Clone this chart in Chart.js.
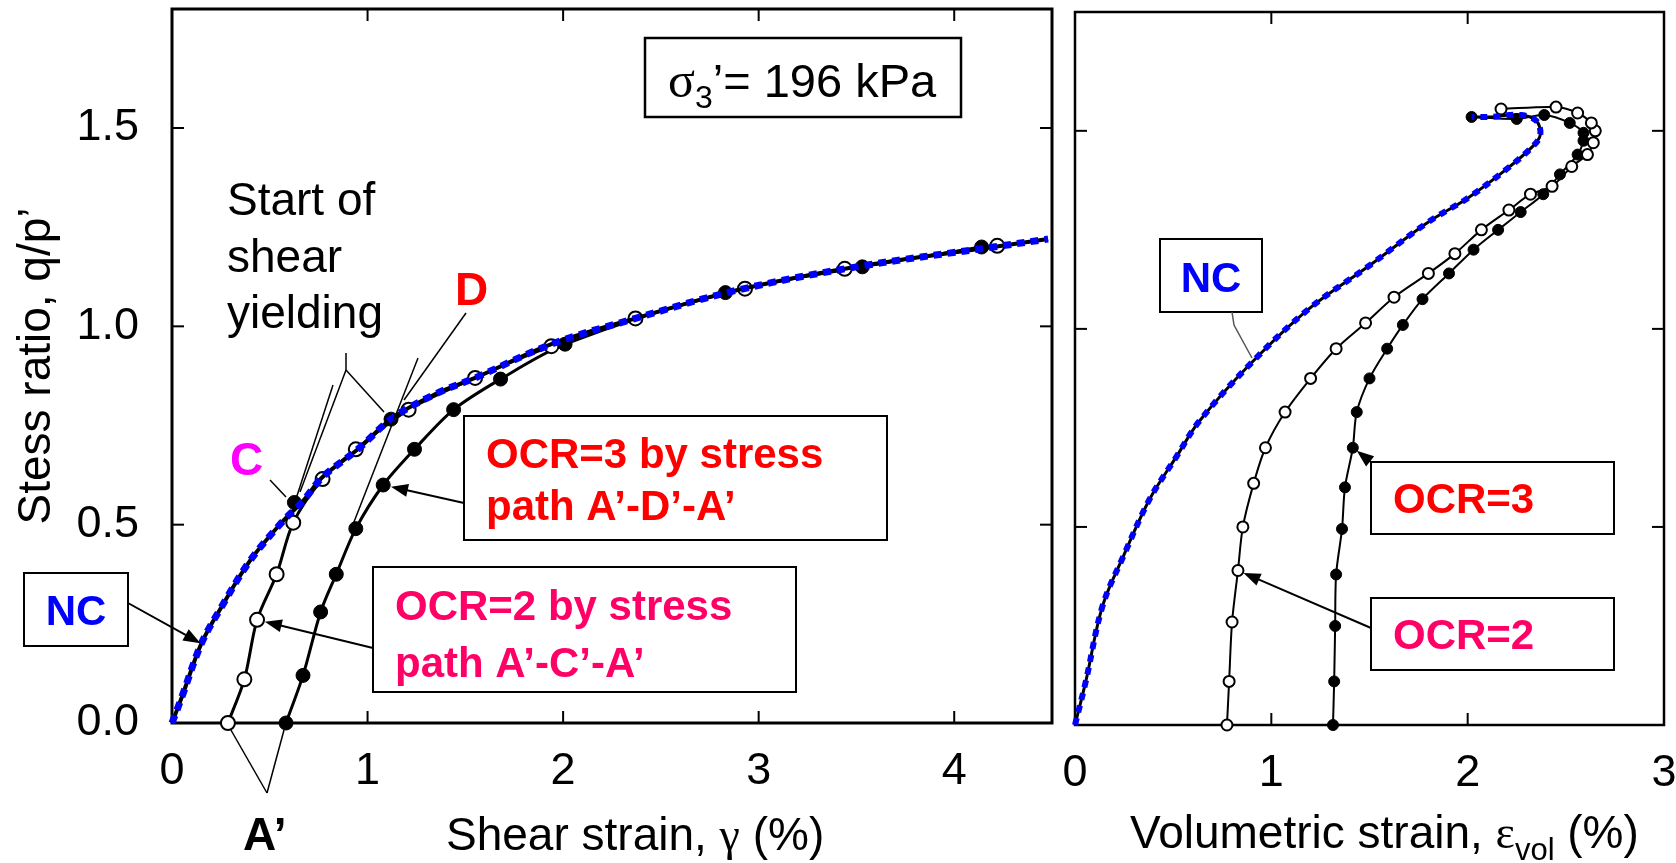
<!DOCTYPE html>
<html>
<head>
<meta charset="utf-8">
<script src="https://cdn.jsdelivr.net/npm/chart.js@4.4.1/dist/chart.umd.min.js"></script>
<style>
  html, body { margin: 0; padding: 0; background: #fff; overflow: hidden; }
  #shear { position: absolute; left: 0; top: 0; }
  #vol { position: absolute; left: 1062px; top: 0; }
</style>
</head>
<body>
<canvas id="shear" width="1062" height="863"></canvas>
<canvas id="vol" width="614" height="863"></canvas>
<script>
// ---- left panel: stress ratio vs shear strain ----
var ncGamma   = [0, 0.05, 0.15, 0.25, 0.40, 0.56, 0.67, 0.77, 0.95, 1.13, 1.35, 1.55, 1.94, 2.37, 2.88, 3.50, 4.20, 4.48];
var ncRatioL  = [0, 0.065, 0.20, 0.29, 0.41, 0.505, 0.56, 0.62, 0.69, 0.77, 0.83, 0.87, 0.955, 1.02, 1.09, 1.15, 1.20, 1.22];
var ocr2Gamma  = [0.286, 0.37, 0.435, 0.535, 0.62, 0.77, 0.94, 1.21, 1.55, 1.94, 2.37, 2.93, 3.44, 4.22];
var ocr2RatioL = [0, 0.11, 0.26, 0.375, 0.505, 0.615, 0.69, 0.79, 0.87, 0.95, 1.02, 1.095, 1.145, 1.203];
var ocr3Gamma  = [0.583, 0.67, 0.76, 0.84, 0.94, 1.08, 1.24, 1.44, 1.68, 2.01, 2.83, 3.53, 4.14];
var ocr3RatioL = [0, 0.12, 0.28, 0.375, 0.49, 0.60, 0.69, 0.79, 0.867, 0.955, 1.085, 1.15, 1.20];
var reversalGamma = [0.626, 1.12];   // points C and D
var reversalRatio = [0.556, 0.766];

// ---- right panel: stress ratio vs volumetric strain ----
var ncVol    = [0, 0.055, 0.14, 0.25, 0.38, 0.52, 0.63, 0.89, 1.19, 1.50, 1.80, 2.00, 2.19, 2.33, 2.37, 2.35, 2.27, 2.11, 2.02];
var ncRatioR = [0, 0.11, 0.30, 0.43, 0.57, 0.68, 0.765, 0.91, 1.05, 1.16, 1.27, 1.33, 1.40, 1.46, 1.49, 1.525, 1.54, 1.535, 1.535];
var ocr2Vol    = [0.774, 0.785, 0.80, 0.83, 0.855, 0.91, 0.97, 1.07, 1.20, 1.33, 1.48, 1.625, 1.80, 1.935, 2.07, 2.21, 2.32, 2.43, 2.53, 2.61, 2.64, 2.65, 2.63, 2.56, 2.45, 2.17];
var ocr2RatioR = [0, 0.11, 0.26, 0.39, 0.50, 0.61, 0.70, 0.79, 0.875, 0.95, 1.015, 1.08, 1.14, 1.19, 1.25, 1.30, 1.34, 1.36, 1.41, 1.44, 1.47, 1.50, 1.52, 1.545, 1.56, 1.555];
var ocr3Vol    = [1.314, 1.32, 1.325, 1.33, 1.36, 1.375, 1.415, 1.435, 1.50, 1.59, 1.67, 1.77, 1.905, 2.03, 2.155, 2.27, 2.385, 2.47, 2.56, 2.59, 2.59, 2.52, 2.39, 2.25, 2.02];
var ocr3RatioR = [0, 0.11, 0.25, 0.38, 0.495, 0.60, 0.70, 0.79, 0.875, 0.95, 1.01, 1.075, 1.14, 1.20, 1.25, 1.295, 1.34, 1.39, 1.44, 1.475, 1.495, 1.52, 1.54, 1.53, 1.535];

// tick labels
var gammaTicks = [0, 1, 2, 3, 4];
var volTicks   = [0, 1, 2, 3];
var ratioTicks = [0, 0.5, 1.0, 1.5];

var FONT  = '"Liberation Sans", Arial, sans-serif';
var SERIF = '"Liberation Serif", "Times New Roman", serif';

function pts(xs, ys) {
  return xs.map(function (v, i) { return { x: v, y: ys[i] }; });
}
function tickList(vals) {
  return function (scale) { scale.ticks = vals.map(function (v) { return { value: v }; }); };
}
// pin the axis box size and drop the label overhang padding so the plot frame lands where it should
function fixX(h) {
  return function (s) { s.height = h; s.paddingLeft = 0; s.paddingRight = 0; };
}
function fixY(w) {
  return function (s) { s.width = w; s.paddingTop = 0; s.paddingBottom = 0; };
}
function line(ctx, x1, y1, x2, y2) {
  ctx.beginPath(); ctx.moveTo(x1, y1); ctx.lineTo(x2, y2); ctx.stroke();
}
function arrow(ctx, x1, y1, x2, y2, gap) {
  var dx = x2 - x1, dy = y2 - y1, len = Math.hypot(dx, dy);
  var ux = dx / len, uy = dy / len;
  var tx = x2 - ux * gap, ty = y2 - uy * gap;
  var hl = 17, hw = 6.5;
  line(ctx, x1, y1, tx - ux * hl * 0.7, ty - uy * hl * 0.7);
  ctx.beginPath();
  ctx.moveTo(tx, ty);
  ctx.lineTo(tx - ux * hl - uy * hw, ty - uy * hl + ux * hw);
  ctx.lineTo(tx - ux * hl + uy * hw, ty - uy * hl - ux * hw);
  ctx.closePath();
  ctx.fill();
}
function runs(ctx, x, y, parts) {
  parts.forEach(function (p) {
    ctx.font = p.font;
    ctx.fillText(p.text, x, y + (p.dy || 0));
    x += ctx.measureText(p.text).width;
  });
}

// frame with inward ticks on all four sides
var framePlugin = {
  id: 'frame',
  beforeDatasetsDraw: function (chart, args, opts) {
    var ctx = chart.ctx, a = chart.chartArea, xs = chart.scales.x, ys = chart.scales.y;
    ctx.save();
    ctx.strokeStyle = '#000';
    ctx.lineWidth = opts.width;
    ctx.strokeRect(a.left, a.top, a.right - a.left, a.bottom - a.top);
    ctx.lineWidth = 2;
    xs.ticks.forEach(function (t) {
      var p = xs.getPixelForValue(t.value);
      if (p - a.left < 3 || a.right - p < 3) return;
      line(ctx, p, a.bottom, p, a.bottom - opts.tick);
      line(ctx, p, a.top, p, a.top + opts.tick);
    });
    ys.ticks.forEach(function (t) {
      var p = ys.getPixelForValue(t.value);
      if (a.bottom - p < 3 || p - a.top < 3) return;
      line(ctx, a.left, p, a.left + opts.tick, p);
      line(ctx, a.right, p, a.right - opts.tick, p);
    });
    ctx.restore();
  }
};

var shearNotes = {
  id: 'shearNotes',
  afterDraw: function (chart) {
    var ctx = chart.ctx, xs = chart.scales.x, ys = chart.scales.y;
    var px = function (v) { return xs.getPixelForValue(v); };
    var py = function (v) { return ys.getPixelForValue(v); };
    ctx.save();
    ctx.fillStyle = '#000';
    ctx.strokeStyle = '#000';
    ctx.textBaseline = 'alphabetic';

    // confining pressure box
    ctx.lineWidth = 2.5;
    ctx.strokeRect(645, 38, 316, 79);
    runs(ctx, 668, 97, [
      { text: 'σ', font: '50px ' + SERIF },
      { text: '3', font: '32px ' + FONT, dy: 11 },
      { text: '’= 196 kPa', font: '47px ' + FONT }
    ]);

    ctx.font = '46px ' + FONT;
    ctx.fillText('Start of', 227, 215);
    ctx.fillText('shear', 227, 272);
    ctx.fillText('yielding', 227, 328);

    ctx.font = 'bold 46px ' + FONT;
    ctx.fillStyle = '#ff0000'; ctx.fillText('D', 455, 305);
    ctx.fillStyle = '#ff00ff'; ctx.fillText('C', 230, 475);
    ctx.fillStyle = '#000';    ctx.fillText('A’', 243, 850);

    // label boxes
    ctx.lineWidth = 2;
    ctx.strokeRect(24, 573, 104, 73);
    ctx.strokeRect(464, 416, 423, 124);
    ctx.strokeRect(373, 567, 423, 125);
    ctx.font = 'bold 42px ' + FONT;
    ctx.fillStyle = '#0000ff';
    ctx.textAlign = 'center';
    ctx.fillText('NC', 76, 625);
    ctx.textAlign = 'left';
    ctx.fillStyle = '#ff0000';
    ctx.fillText('OCR=3 by stress', 486, 468);
    ctx.fillText('path A’-D’-A’', 486, 520);
    ctx.fillStyle = '#ff0066';
    ctx.fillText('OCR=2 by stress', 395, 620);
    ctx.fillText('path A’-C’-A’', 395, 677);

    // x axis title
    ctx.fillStyle = '#000';
    runs(ctx, 446, 850, [
      { text: 'Shear strain, ', font: '46px ' + FONT },
      { text: 'γ', font: '46px ' + SERIF },
      { text: ' (%)', font: '46px ' + FONT }
    ]);

    // thin leader lines
    ctx.lineWidth = 1.5;
    line(ctx, 466, 313, 404, 400);           // D
    line(ctx, 270, 480, 286, 497);           // C
    line(ctx, 346, 353, 346, 370);           // shear yielding pointer
    line(ctx, 346, 370, 300, 492);
    line(ctx, 346, 370, 384, 412);
    line(ctx, 418, 358, 352, 527);           // tangent near D
    line(ctx, 333, 385, 294, 505);           // tangent near C
    var a2 = [px(ocr2Gamma[0]), py(0)], a3 = [px(ocr3Gamma[0]), py(0)];
    line(ctx, 267, 793, a2[0] + 3, a2[1] + 7);
    line(ctx, 267, 793, a3[0] - 2, a3[1] + 7);

    // arrows
    ctx.lineWidth = 2;
    arrow(ctx, 128, 603, px(ncGamma[2]), py(ncRatioL[2]), 1);
    arrow(ctx, 464, 503, px(ocr3Gamma[5]), py(ocr3RatioL[5]), 8);
    arrow(ctx, 373, 648, px(ocr2Gamma[2]), py(ocr2RatioL[2]), 8);
    ctx.restore();
  }
};

var volNotes = {
  id: 'volNotes',
  afterDraw: function (chart) {
    var ctx = chart.ctx, xs = chart.scales.x, ys = chart.scales.y;
    var px = function (v) { return xs.getPixelForValue(v); };
    var py = function (v) { return ys.getPixelForValue(v); };
    ctx.save();
    ctx.fillStyle = '#000';
    ctx.strokeStyle = '#000';
    ctx.lineWidth = 2;
    ctx.strokeRect(98, 239, 102, 73);
    ctx.strokeRect(309, 462, 243, 72);
    ctx.strokeRect(309, 598, 243, 72);
    ctx.font = 'bold 42px ' + FONT;
    ctx.fillStyle = '#0000ff';
    ctx.textAlign = 'center';
    ctx.fillText('NC', 149, 292);
    ctx.textAlign = 'left';
    ctx.fillStyle = '#ff0000';
    ctx.fillText('OCR=3', 331, 513);
    ctx.fillStyle = '#ff0066';
    ctx.fillText('OCR=2', 331, 649);

    ctx.fillStyle = '#000';
    runs(ctx, 68, 848, [
      { text: 'Volumetric strain, ', font: '46px ' + FONT },
      { text: 'ε', font: '46px ' + SERIF },
      { text: 'vol', font: '31px ' + FONT, dy: 12 },
      { text: ' (%)', font: '46px ' + FONT }
    ]);

    ctx.strokeStyle = '#555';
    ctx.lineWidth = 1.5;
    ctx.beginPath();
    ctx.moveTo(170, 312); ctx.lineTo(172, 325); ctx.lineTo(190, 358);
    ctx.stroke();

    ctx.strokeStyle = '#000';
    ctx.lineWidth = 2;
    arrow(ctx, 309, 462, px(ocr3Vol[6]), py(ocr3RatioR[6]), 5);
    arrow(ctx, 309, 628, px(ocr2Vol[3]), py(ocr2RatioR[3]), 6);
    ctx.restore();
  }
};

function ncDotted(data, w, dash) {
  return { data: data, showLine: true, borderColor: '#0000ff', borderWidth: w, borderDash: dash,
           pointRadius: 0, tension: 0.35, clip: false };
}
function ncSolid(data, w) {
  return { data: data, showLine: true, borderColor: '#000', borderWidth: w, pointRadius: 0, tension: 0.35, clip: false };
}
function openSeries(data, w, r) {
  return { data: data, showLine: true, borderColor: '#000', borderWidth: w, tension: 0.3,
           pointRadius: r, pointBackgroundColor: '#fff', pointBorderColor: '#000', pointBorderWidth: 2, clip: false };
}
function filledSeries(data, w, r) {
  return { data: data, showLine: true, borderColor: '#000', borderWidth: w, tension: 0.3,
           pointRadius: r, pointBackgroundColor: '#000', pointBorderColor: '#000', pointBorderWidth: 1, clip: false };
}

var tickFont = { family: FONT, size: 45 };

new Chart(document.getElementById('shear'), {
  type: 'scatter',
  data: {
    datasets: [
      ncDotted(pts(ncGamma, ncRatioL), 7, [8, 6]),
      ncSolid(pts(ncGamma, ncRatioL), 4),
      { data: pts(reversalGamma, reversalRatio), pointRadius: 7, pointBackgroundColor: '#000', pointBorderColor: '#000', clip: false },
      openSeries(pts(ocr2Gamma, ocr2RatioL), 3, 7),
      filledSeries(pts(ocr3Gamma, ocr3RatioL), 3, 7)
    ]
  },
  options: {
    responsive: false,
    animation: false,
    events: [],
    layout: { padding: { top: 9, right: 10, left: 0, bottom: 0 } },
    plugins: { legend: { display: false }, tooltip: { enabled: false }, frame: { width: 3, tick: 12 } },
    scales: {
      x: {
        type: 'linear', min: 0, max: 4.5,
        afterBuildTicks: tickList(gammaTicks),
        afterFit: fixX(140),
        grid: { display: false, drawTicks: false },
        border: { display: false },
        ticks: { font: tickFont, color: '#000', padding: 22, callback: function (v) { return String(v); } }
      },
      y: {
        type: 'linear', min: 0, max: 1.8,
        afterBuildTicks: tickList(ratioTicks),
        afterFit: fixY(172),
        grid: { display: false, drawTicks: false },
        border: { display: false },
        title: { display: true, text: 'Stess ratio, q/p’', color: '#000', font: { family: FONT, size: 46 }, padding: { top: 10, bottom: 0 } },
        ticks: { font: tickFont, color: '#000', padding: 33, callback: function (v) { return v.toFixed(1); } }
      }
    }
  },
  plugins: [framePlugin, shearNotes]
});

new Chart(document.getElementById('vol'), {
  type: 'scatter',
  data: {
    datasets: [
      ncDotted(pts(ncVol, ncRatioR), 6, [7, 6]),
      ncSolid(pts(ncVol, ncRatioR), 3),
      openSeries(pts(ocr2Vol, ocr2RatioR), 2, 5.5),
      filledSeries(pts(ocr3Vol, ocr3RatioR), 2, 5.5)
    ]
  },
  options: {
    responsive: false,
    animation: false,
    events: [],
    layout: { padding: { top: 12, right: 12, left: 0, bottom: 0 } },
    plugins: { legend: { display: false }, tooltip: { enabled: false }, frame: { width: 2.5, tick: 12 } },
    scales: {
      x: {
        type: 'linear', min: 0, max: 3,
        afterBuildTicks: tickList(volTicks),
        afterFit: fixX(138),
        grid: { display: false, drawTicks: false },
        border: { display: false },
        ticks: { font: tickFont, color: '#000', padding: 22, callback: function (v) { return String(v); } }
      },
      y: {
        type: 'linear', min: 0, max: 1.8,
        afterBuildTicks: tickList(ratioTicks),
        afterFit: fixY(13),
        grid: { display: false, drawTicks: false },
        border: { display: false },
        ticks: { display: false }
      }
    }
  },
  plugins: [framePlugin, volNotes]
});
</script>
</body>
</html>
